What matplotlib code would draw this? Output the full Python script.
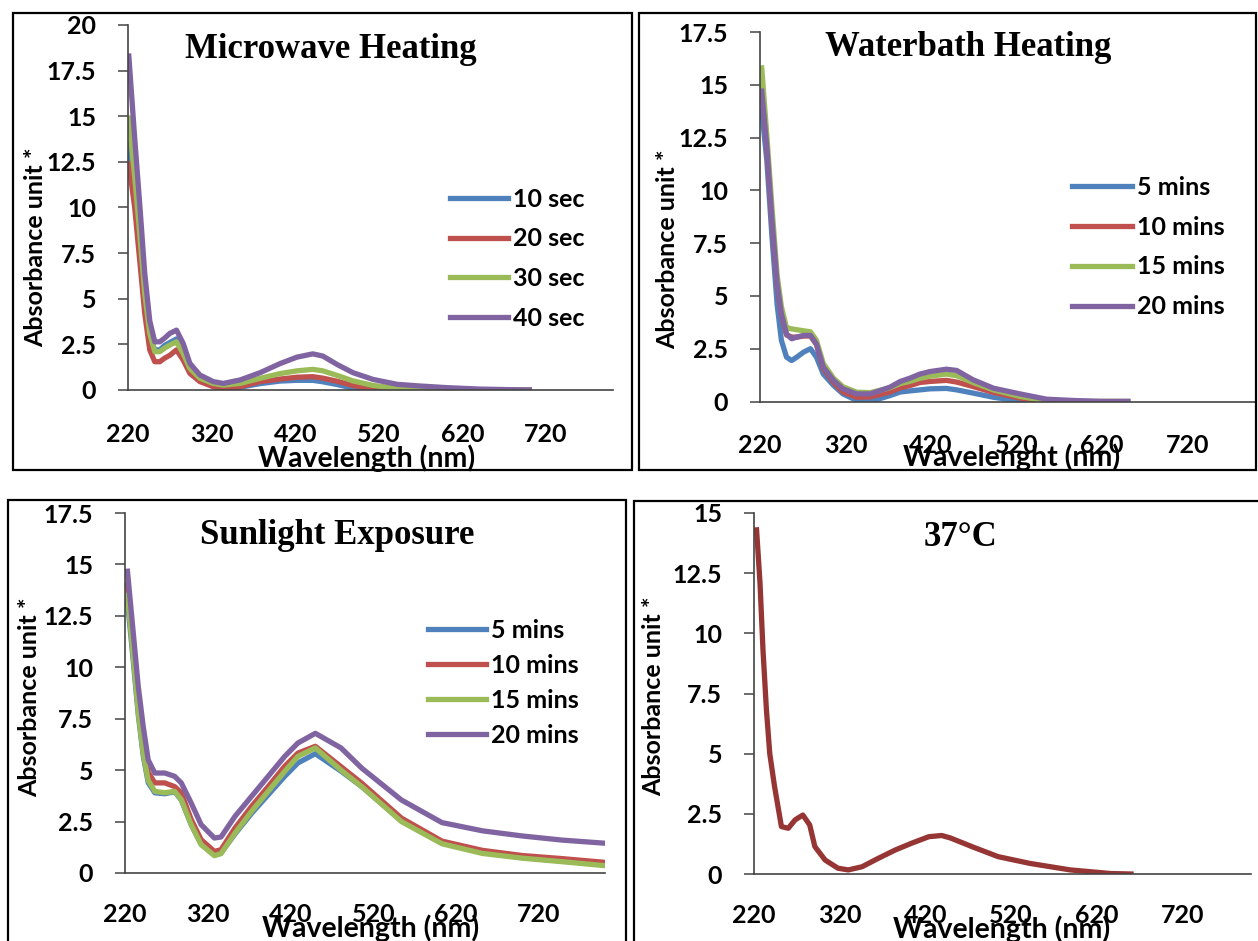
import numpy as np
import matplotlib
matplotlib.use('Agg')
import matplotlib.pyplot as plt
from matplotlib.patches import Rectangle

# ---------- data ----------
# Microwave heating
wl_mw = [221, 228, 234, 240, 246, 252, 258, 264, 270, 278, 286, 294, 306, 322, 334,
         354, 378, 402, 422, 441, 453, 470, 489, 513, 542, 569, 601, 641, 700]
mw_10 = [13.5, 10.8, 8.0, 5.0, 2.9, 2.2, 2.2, 2.45, 2.6, 2.8, 2.1, 1.1, 0.55, 0.2, 0.1,
         0.15, 0.35, 0.49, 0.53, 0.53, 0.45, 0.3, 0.1, 0.0, 0.0, 0.0, 0.0, 0.0, 0.0]
mw_20 = [12.4, 10.0, 7.1, 4.2, 2.2, 1.55, 1.55, 1.75, 1.9, 2.2, 1.64, 0.91, 0.46, 0.18, 0.1,
         0.18, 0.46, 0.6, 0.7, 0.73, 0.65, 0.48, 0.25, 0.05, 0.0, 0.0, 0.0, 0.0, 0.0]
mw_30 = [14.9, 11.7, 8.6, 5.3, 3.1, 2.1, 2.1, 2.3, 2.46, 2.64, 2.0, 1.18, 0.64, 0.36, 0.27,
         0.36, 0.64, 0.9, 1.05, 1.13, 1.05, 0.8, 0.5, 0.25, 0.1, 0.02, 0.0, 0.0, 0.0]
mw_40 = [18.3, 13.8, 10.2, 6.4, 3.8, 2.64, 2.64, 2.85, 3.1, 3.28, 2.55, 1.46, 0.82, 0.46, 0.36,
         0.55, 0.95, 1.45, 1.8, 1.98, 1.86, 1.4, 0.95, 0.58, 0.31, 0.22, 0.13, 0.05, 0.0]
mw_labels = ['10 sec', '20 sec', '30 sec', '40 sec']

# Waterbath heating
wl_wb = [222, 228, 234, 240, 245, 251, 257, 263, 271, 279, 286, 294, 306, 317, 333,
         349, 372, 384, 395, 407, 419, 438, 450, 469, 493, 524, 555, 586, 618, 650]
wb_5 = [13.8, 11.4, 7.8, 4.6, 2.9, 2.1, 1.94, 2.1, 2.34, 2.5, 2.1, 1.3, 0.76, 0.36, 0.05,
        0.0, 0.28, 0.45, 0.5, 0.55, 0.6, 0.62, 0.55, 0.4, 0.2, 0.03, 0.0, 0.0, 0.0, 0.0]
wb_10 = [15.0, 12.0, 8.5, 5.5, 4.1, 3.15, 3.05, 3.05, 3.1, 3.1, 2.7, 1.55, 0.9, 0.45, 0.2,
         0.22, 0.45, 0.65, 0.75, 0.9, 0.95, 1.0, 0.92, 0.71, 0.43, 0.16, 0.0, 0.0, 0.0, 0.0]
wb_15 = [15.8, 12.6, 9.2, 6.0, 4.5, 3.5, 3.44, 3.4, 3.35, 3.3, 2.9, 1.8, 1.1, 0.7, 0.44,
         0.42, 0.65, 0.85, 0.95, 1.1, 1.2, 1.3, 1.22, 0.9, 0.55, 0.24, 0.03, 0.0, 0.0, 0.0]
wb_20 = [14.7, 12.05, 8.6, 5.6, 4.15, 3.2, 2.97, 3.05, 3.13, 3.13, 2.73, 1.63, 1.0, 0.6, 0.36,
         0.36, 0.68, 0.95, 1.1, 1.3, 1.42, 1.53, 1.47, 1.03, 0.63, 0.36, 0.11, 0.05, 0.0, 0.0]
min_labels = ['5 mins', '10 mins', '15 mins', '20 mins']

# Sunlight exposure
wl_sl = [223, 230, 236, 242, 248, 256, 268, 280, 288, 300, 312, 328, 336, 353, 373,
         393, 413, 429, 450, 481, 506, 554, 603, 652, 700, 748, 799]
sl_5 = [13.2, 10.3, 7.7, 5.7, 4.4, 3.9, 3.85, 3.95, 3.55, 2.35, 1.4, 0.88, 0.98, 1.9, 2.9,
        3.8, 4.7, 5.35, 5.8, 4.95, 4.2, 2.55, 1.48, 1.0, 0.75, 0.58, 0.4]
sl_10 = [14.0, 11.0, 8.3, 6.3, 4.9, 4.38, 4.38, 4.2, 3.9, 2.6, 1.62, 1.05, 1.13, 2.19, 3.24,
         4.2, 5.19, 5.83, 6.16, 5.17, 4.37, 2.67, 1.55, 1.1, 0.85, 0.7, 0.52]
sl_15 = [13.5, 10.5, 7.8, 5.8, 4.5, 3.97, 3.9, 3.97, 3.57, 2.35, 1.38, 0.84, 0.94, 1.94, 3.0,
         3.97, 4.94, 5.67, 6.08, 5.0, 4.2, 2.5, 1.42, 0.95, 0.72, 0.55, 0.36]
sl_20 = [14.67, 11.67, 9.08, 7.13, 5.5, 4.86, 4.86, 4.7, 4.38, 3.4, 2.35, 1.7, 1.75, 2.76, 3.73,
         4.7, 5.67, 6.32, 6.79, 6.08, 5.1, 3.55, 2.45, 2.05, 1.8, 1.6, 1.45]

# 37 C
wl_37 = [223, 227, 230.5, 234.5, 238.4, 244, 252, 260, 268, 277, 285, 291, 303, 318, 330,
         346, 365, 385, 404, 424, 439, 449, 477, 505, 542, 589, 636, 660]
a_37 = [14.3, 12.1, 9.3, 6.82, 5.0, 3.63, 1.97, 1.9, 2.25, 2.45, 2.04, 1.14, 0.58, 0.24, 0.17,
        0.3, 0.65, 1.0, 1.28, 1.55, 1.6, 1.5, 1.1, 0.72, 0.44, 0.17, 0.02, 0.0]

xtick_vals = [220, 320, 420, 520, 620, 720]
colors = ['#4F81BD', '#C0504D', '#9BBB59', '#8064A2']
color_37 = '#963634'

# ---------- layout helpers (pixel coords, origin top-left) ----------
W, H = 1258, 941
fig = plt.figure(figsize=(W / 100, H / 100), dpi=100)
SANS = 'Lato'
SERIF = 'Liberation Serif'
FS = 18       # tick labels, legend, y label
FS_XL = 20.5  # x label
FS_T = 25     # panel titles
LW = 3.8


def fx(x):
    return x / W


def fy(y):
    return 1 - y / H


def make_axes(l, t, r, b, ymax, ystep, xpad):
    ax = fig.add_axes([fx(l), fy(b), (r - l) / W, (b - t) / H])
    ax.set_xlim(220, 800)
    ax.set_ylim(0, ymax)
    yt = np.arange(0, ymax + 0.01, ystep)
    ax.set_yticks(yt)
    ax.set_yticklabels([('%g' % v) for v in yt])
    ax.set_xticks(xtick_vals)
    ax.set_xticklabels([str(v) for v in xtick_vals])
    for s in ['top', 'right']:
        ax.spines[s].set_visible(False)
    for s in ['left', 'bottom']:
        ax.spines[s].set_color('#444444')
        ax.spines[s].set_linewidth(1.2)
    ax.tick_params(axis='y', length=7, width=1.1, color='#444444', pad=16)
    ax.tick_params(axis='x', length=0, pad=xpad)
    for lab in ax.get_xticklabels() + ax.get_yticklabels():
        lab.set_fontfamily(SANS)
        lab.set_fontsize(FS)
        lab.set_fontweight('bold')
    return ax


def border(l, t, r, b):
    fig.patches.append(Rectangle((fx(l), fy(b)), (r - l) / W, (b - t) / H,
                                 transform=fig.transFigure, fill=False,
                                 edgecolor='black', linewidth=1.6))


def ftext(x, y, s, **kw):
    fig.text(fx(x), fy(y), s, ha='center', va='center', **kw)


def add_legend(ax, x, y, spacing, hlen):
    ax.legend(loc='upper left', bbox_to_anchor=(fx(x), fy(y)),
              bbox_transform=fig.transFigure, frameon=False, borderpad=0,
              borderaxespad=0, handlelength=hlen, handletextpad=0.2,
              labelspacing=spacing,
              prop={'family': SANS, 'size': FS, 'weight': 'bold'})


def axis_texts(title, tx, ty, yl_x, yl_y, xlabel, xl_x, xl_y):
    ftext(tx, ty, title, family=SERIF, fontsize=FS_T, fontweight='bold')
    ftext(yl_x, yl_y, 'Absorbance unit *', family=SANS, fontsize=FS,
          fontweight='bold', rotation=90)
    ftext(xl_x, xl_y, xlabel, family=SANS, fontsize=FS_XL, fontweight='bold')


# ---------- panels ----------
border(13, 13, 632, 470)
ax1 = make_axes(128, 25, 613, 390, 20, 2.5, 23.5)
for ys, c, lab in zip([mw_10, mw_20, mw_30, mw_40], colors, mw_labels):
    ax1.plot(wl_mw, ys, color=c, lw=LW, label=lab)
add_legend(ax1, 450, 188, 0.66, 2.32)
axis_texts('Microwave Heating', 331, 50, 36, 247, 'Wavelength (nm)', 367, 458)

border(639, 13, 1256, 470)
ax2 = make_axes(760, 32, 1256, 401.5, 17.5, 2.5, 23.5)
for ys, c, lab in zip([wb_5, wb_10, wb_15, wb_20], colors, min_labels):
    ax2.plot(wl_wb, ys, color=c, lw=LW, label=lab)
add_legend(ax2, 1072, 176, 0.67, 2.4)
axis_texts('Waterbath Heating', 968, 48, 668, 249, 'Wavelenght (nm)', 1012, 457)

border(8, 500, 626, 950)
ax3 = make_axes(125, 513, 605, 873, 17.5, 2.5, 21.5)
for ys, c, lab in zip([sl_5, sl_10, sl_15, sl_20], colors, min_labels):
    ax3.plot(wl_sl, ys, color=c, lw=LW, label=lab)
ax3.set_xticks([520], minor=True)
ax3.tick_params(axis='x', which='minor', length=8, width=1.1, color='#444444')
add_legend(ax3, 428, 619, 0.48, 2.32)
axis_texts('Sunlight Exposure', 337, 536, 30, 697, 'Wavelength (nm)', 371, 928)

border(634, 501, 1270, 950)
ax4 = make_axes(754, 513, 1251, 874, 15, 2.5, 21.5)
ax4.plot(wl_37, a_37, color=color_37, lw=LW)
axis_texts('37°C', 960, 537, 654, 696, 'Wavelength (nm)', 1002, 929)

fig.savefig('out.png', dpi=100)
